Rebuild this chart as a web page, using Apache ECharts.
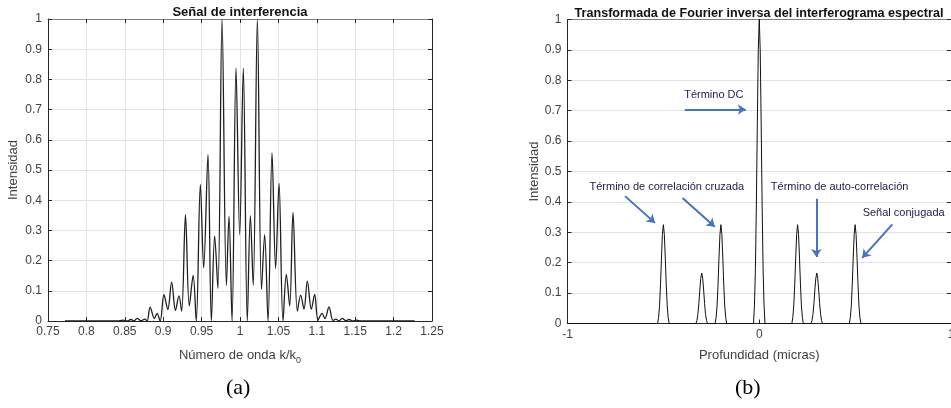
<!DOCTYPE html>
<html style="height: 100%">
<head>
    <meta charset="utf-8">
</head>
<body style="height: 100%; margin: 0; background: #fff">
<div id="container" style="width: 951px; height: 408px"></div>

<script type="text/javascript" src="https://cdn.jsdelivr.net/npm/echarts@6/dist/echarts.min.js"></script>
<script type="text/javascript">
    // (a) senal de interferencia: k/k0 vs intensidad (extremos)
    var kRatio = [0.772, 0.84, 0.848, 0.853, 0.858, 0.862, 0.866, 0.871, 0.876, 0.879,
        0.883, 0.8885, 0.892, 0.896, 0.901, 0.906, 0.911, 0.916, 0.9205, 0.924,
        0.929, 0.934, 0.939, 0.943, 0.9484, 0.9527, 0.9583, 0.9627, 0.967, 0.9712,
        0.9766, 0.9823, 0.9857, 0.9896, 0.9948, 0.9996, 1.0043, 1.0095, 1.0135, 1.0172,
        1.0226, 1.028, 1.0321, 1.0365, 1.0417, 1.0464, 1.0508, 1.056, 1.0603, 1.0647,
        1.069, 1.0747, 1.079, 1.0833, 1.0877, 1.0929, 1.0972, 1.1016, 1.1068, 1.1107,
        1.1159, 1.1211, 1.125, 1.129, 1.133, 1.138, 1.142, 1.147, 1.152, 1.157, 1.2274];
    var intensityA = [0, 0, 0.003, 0, 0.005, 0, 0.009, 0.001, 0.006, 0,
        0.046, 0.008, 0.025, 0, 0.087, 0.038, 0.129, 0.035, 0.083, 0.033,
        0.352, 0.05, 0.151, 0, 0.452, 0.176, 0.551, 0, 0.282, 0.108,
        1.0, 0.118, 0.347, 0, 0.837, 0.286, 0.837, 0, 0.349, 0.118,
        1.0, 0.105, 0.286, 0, 0.557, 0.174, 0.456, 0, 0.154, 0.05,
        0.36, 0.033, 0.086, 0.039, 0.132, 0.039, 0.088, 0.003, 0.025, 0.008,
        0.047, 0.002, 0.006, 0, 0.009, 0.001, 0.005, 0, 0.003, 0, 0];

    // (b) transformada inversa: profundidad vs intensidad
    var depth = [-1,
        -0.53, -0.525, -0.52, -0.515, -0.51, -0.505, -0.5, -0.495, -0.49, -0.485, -0.48, -0.475, -0.47,
        -0.33, -0.325, -0.32, -0.315, -0.31, -0.305, -0.3, -0.295, -0.29, -0.285, -0.28, -0.275, -0.27,
        -0.23, -0.225, -0.22, -0.215, -0.21, -0.205, -0.2, -0.195, -0.19, -0.185, -0.18, -0.175, -0.17,
        -0.03, -0.025, -0.02, -0.015, -0.01, -0.005, 0, 0.005, 0.01, 0.015, 0.02, 0.025, 0.03,
        0.17, 0.175, 0.18, 0.185, 0.19, 0.195, 0.2, 0.205, 0.21, 0.215, 0.22, 0.225, 0.23,
        0.27, 0.275, 0.28, 0.285, 0.29, 0.295, 0.3, 0.305, 0.31, 0.315, 0.32, 0.325, 0.33,
        0.47, 0.475, 0.48, 0.485, 0.49, 0.495, 0.5, 0.505, 0.51, 0.515, 0.52, 0.525, 0.53,
        1];
    var intensityB = [0,
        0, 0.02, 0.058, 0.127, 0.215, 0.293, 0.325, 0.293, 0.215, 0.127, 0.058, 0.02, 0,
        0, 0.01, 0.03, 0.065, 0.11, 0.149, 0.166, 0.149, 0.11, 0.065, 0.03, 0.01, 0,
        0, 0.02, 0.058, 0.127, 0.215, 0.293, 0.325, 0.293, 0.215, 0.127, 0.058, 0.02, 0,
        0, 0.06, 0.18, 0.39, 0.66, 0.9, 1.0, 0.9, 0.66, 0.39, 0.18, 0.06, 0,
        0, 0.02, 0.058, 0.127, 0.215, 0.293, 0.325, 0.293, 0.215, 0.127, 0.058, 0.02, 0,
        0, 0.01, 0.03, 0.065, 0.11, 0.149, 0.166, 0.149, 0.11, 0.065, 0.03, 0.01, 0,
        0, 0.02, 0.058, 0.127, 0.215, 0.293, 0.325, 0.293, 0.215, 0.127, 0.058, 0.02, 0,
        0];

    // anotaciones (coordenadas de datos)
    var noteTexts = ['Término DC', 'Término de correlación cruzada', 'Término de auto-correlación', 'Señal conjugada'];
    var notePos = [[-0.237, 0.753], [-0.482, 0.45], [0.419, 0.45], [0.753, 0.364]];
    var arrows = [
        [[-0.388, 0.704], [-0.07, 0.704]],
        [[-0.70, 0.419], [-0.544, 0.331]],
        [[-0.40, 0.413], [-0.232, 0.318]],
        [[0.298, 0.41], [0.298, 0.219]],
        [[0.694, 0.326], [0.537, 0.216]]
    ];

    var FONT = 'Liberation Sans, Arial, sans-serif';
    var dark = '#262626';
    var labelColor = '#404040';

    function zip(a, b) {
        var out = [];
        for (var i = 0; i < a.length; i++) out.push([a[i], b[i]]);
        return out;
    }

    function mainX(grid, min, max, interval, name, split) {
        return {
            gridIndex: grid, type: 'value', min: min, max: max, interval: interval,
            axisLine: {onZero: false, lineStyle: {color: dark, width: 1}},
            axisTick: {inside: true, length: 4, lineStyle: {color: dark}},
            axisLabel: {color: labelColor, fontSize: 12, fontFamily: FONT, margin: 5},
            splitLine: {show: split, lineStyle: {color: '#e2e2e2'}},
            name: name, nameLocation: 'middle', nameGap: 25,
            nameTextStyle: {
                color: labelColor, fontSize: 13, fontFamily: FONT,
                rich: {sub: {fontSize: 9, fontFamily: FONT, color: labelColor, padding: [10, 0, 0, 0]}}
            }
        };
    }

    function mainY(grid, name, gap) {
        return {
            gridIndex: grid, type: 'value', min: 0, max: 1, interval: 0.1,
            axisLine: {show: true, onZero: false, lineStyle: {color: dark, width: 1}},
            axisTick: {show: true, inside: true, length: 4, lineStyle: {color: dark}},
            axisLabel: {color: labelColor, fontSize: 12, fontFamily: FONT, margin: 6},
            splitLine: {show: true, lineStyle: {color: '#e2e2e2'}},
            name: name, nameLocation: 'middle', nameGap: gap,
            nameTextStyle: {color: labelColor, fontSize: 13, fontFamily: FONT}
        };
    }

    function boxX(grid, min, max, interval) {
        return {
            gridIndex: grid, type: 'value', position: 'top', min: min, max: max, interval: interval,
            axisLine: {onZero: false, lineStyle: {color: '#808080', width: 1}},
            axisTick: {inside: true, length: 4, lineStyle: {color: dark}},
            axisLabel: {show: false}, splitLine: {show: false}
        };
    }

    function boxY(grid) {
        return {
            gridIndex: grid, type: 'value', position: 'right', min: 0, max: 1, interval: 0.1,
            axisLine: {show: true, onZero: false, lineStyle: {color: dark, width: 1}},
            axisTick: {show: true, inside: true, length: 4, lineStyle: {color: dark}},
            axisLabel: {show: false}, splitLine: {show: false}
        };
    }

    var dom = document.getElementById('container');
    var myChart = echarts.init(dom);

    var option = {
        animation: false,
        backgroundColor: '#fff',
        title: [{
            text: 'Señal de interferencia', left: 235, top: 1, textAlign: 'center',
            textStyle: {fontSize: 13, fontWeight: 'bold', color: '#111', fontFamily: FONT}
        }, {
            text: 'Transformada de Fourier inversa del interferograma espectral', left: 754, top: 2, textAlign: 'center',
            textStyle: {fontSize: 12.6, fontWeight: 'bold', color: '#111', fontFamily: FONT}
        }],
        grid: [
            {left: 48, right: 519, top: 19, bottom: 87, outerBoundsMode: 'none'},
            {left: 567.5, right: 0, top: 19.5, bottom: 84.5, outerBoundsMode: 'none'}
        ],
        xAxis: [
            mainX(0, 0.75, 1.25, 0.05, 'Número de onda k/k{sub|0}', true),
            boxX(0, 0.75, 1.25, 0.05),
            mainX(1, -1, 1, 1, 'Profundidad (micras)', false),
            boxX(1, -1, 1, 1)
        ],
        yAxis: [
            mainY(0, 'Intensidad', 28),
            boxY(0),
            mainY(1, 'Intensidad', 26),
            boxY(1)
        ],
        series: [{
            type: 'line', xAxisIndex: 0, yAxisIndex: 0,
            data: zip(kRatio, intensityA),
            smooth: 0.35, showSymbol: false,
            lineStyle: {color: '#1f1f1f', width: 1.3}
        }, {
            type: 'line', xAxisIndex: 2, yAxisIndex: 2,
            data: zip(depth, intensityB),
            showSymbol: false,
            lineStyle: {color: '#111', width: 1},
            markLine: {
                silent: true, symbol: ['none', 'arrow'], symbolSize: 8,
                lineStyle: {color: '#4472C4', width: 2, type: 'solid'},
                label: {show: false},
                data: arrows.map(function (a) {
                    return [{coord: a[0]}, {coord: a[1]}];
                })
            },
            markPoint: {
                silent: true, symbol: 'circle', symbolSize: 0,
                label: {show: true, position: 'inside', formatter: '{b}', color: '#1c1c4c', fontSize: 11, fontFamily: FONT},
                data: noteTexts.map(function (t, i) {
                    return {name: t, coord: notePos[i]};
                })
            }
        }],
        graphic: [{
            type: 'text', left: 226, top: 377,
            style: {text: '(a)', font: '22px "Liberation Serif", "Times New Roman", serif', fill: '#000'}
        }, {
            type: 'text', left: 735, top: 377,
            style: {text: '(b)', font: '22px "Liberation Serif", "Times New Roman", serif', fill: '#000'}
        }]
    };

    if (option && typeof option === 'object') {
        myChart.setOption(option);
    }
</script>
</body>
</html>
